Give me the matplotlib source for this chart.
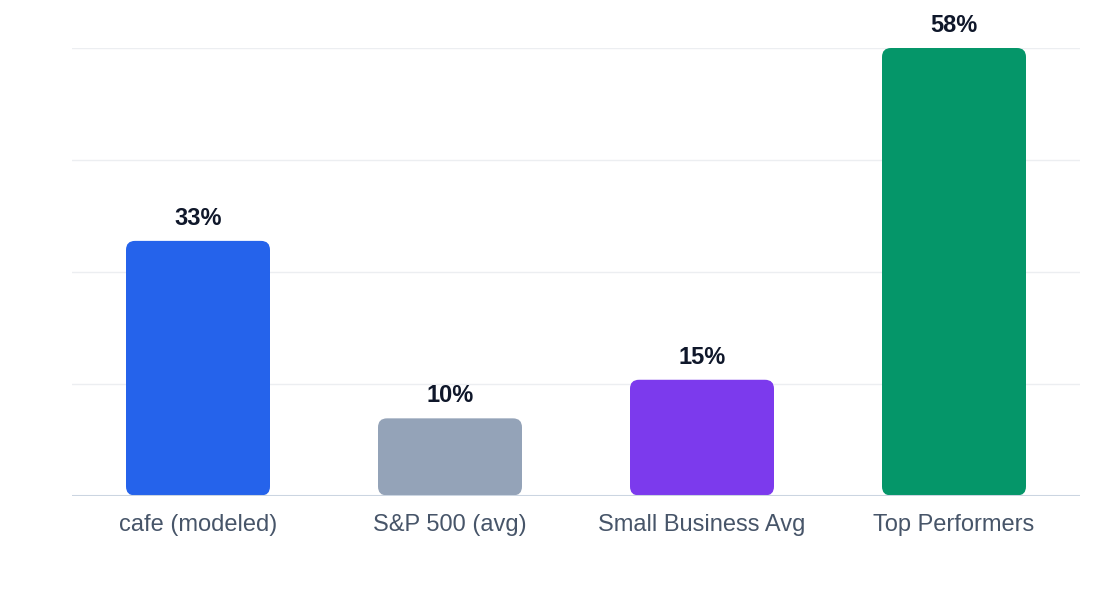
import matplotlib
matplotlib.use("Agg")
import matplotlib.pyplot as plt
from matplotlib.patches import FancyBboxPatch

categories = ["cafe (modeled)", "S&P 500 (avg)", "Small Business Avg", "Top Performers"]
values = [33, 10, 15, 58]
labels = ["33%", "10%", "15%", "58%"]
colors = ["#2563eb", "#94a3b8", "#7c3aed", "#059669"]

plt.rcParams['font.family'] = ['Liberation Sans', 'DejaVu Sans']

W, H = 1120, 600
fig = plt.figure(figsize=(W / 100, H / 100), dpi=100)
ax = fig.add_axes([72 / W, 1 - 495.5 / H, (1080 - 72) / W, (495.5 - 48) / H])

ymax = 58
ax.set_xlim(-0.5, len(categories) - 0.5)
ax.set_ylim(0, ymax)

for i in range(1, 5):
    ax.axhline(ymax * i / 4, color="#eceef1", lw=1, zorder=0)

bar_w = 144 / 252
px_x = 252.0  # px per x unit
px_y = 447.5 / ymax  # px per y unit
r_px = 9
bars = ax.bar(range(len(categories)), values, width=bar_w, color=colors)
for b, c in zip(bars, colors):
    b.set_visible(False)
    x0, y0 = b.get_x(), b.get_y()
    w, h = b.get_width(), b.get_height()
    patch = FancyBboxPatch((x0, y0), w, h,
                           boxstyle=f"round,pad=0,rounding_size={r_px / px_x}",
                           mutation_aspect=px_x / px_y,
                           facecolor=c, edgecolor="none", zorder=2)
    ax.add_patch(patch)

for i, (v, t) in enumerate(zip(values, labels)):
    ax.annotate(t, (i, v), xytext=(0, 11.5), textcoords="offset points",
                ha="center", va="baseline", fontsize=17, fontweight="bold",
                color="#0f172a")

ax.axhline(0, color="#cbd5e1", lw=2.2, zorder=3)

ax.set_xticks(range(len(categories)))
ax.set_xticklabels(categories, fontsize=17, color="#475569")
ax.tick_params(axis="x", length=0, pad=13.5)
ax.set_yticks([])
for s in ax.spines.values():
    s.set_visible(False)

fig.savefig("out.png", dpi=100, facecolor="white")
